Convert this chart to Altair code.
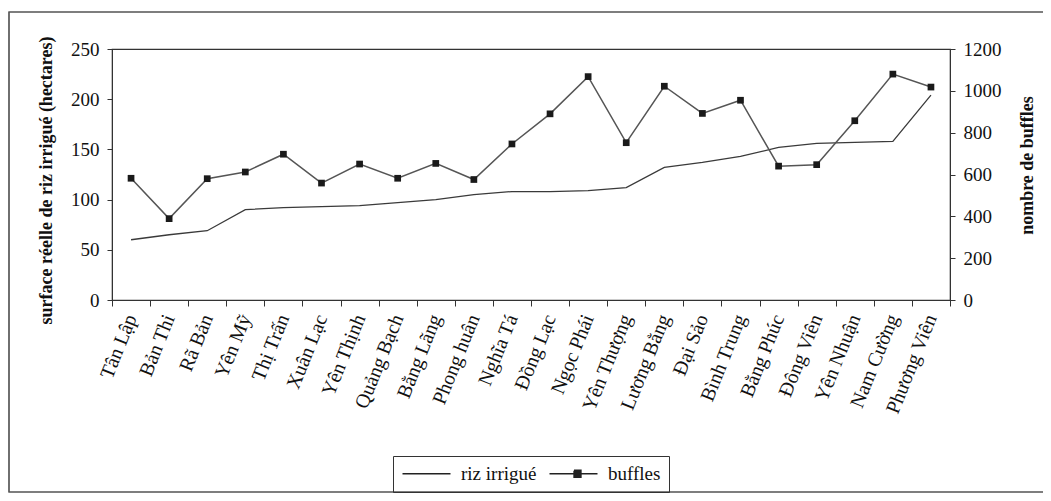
import altair as alt
import pandas as pd

communes = ["Tân Lập", "Bản Thi", "Rã Bản", "Yên Mỹ", "Thị Trấn", "Xuân Lạc",
            "Yên Thịnh", "Quảng Bạch", "Bằng Lãng", "Phong huân", "Nghĩa Tá",
            "Đồng Lạc", "Ngọc Phái", "Yên Thượng", "Lương Bằng", "Đại Sảo",
            "Bình Trung", "Bằng Phúc", "Đông Viên", "Yên Nhuận", "Nam Cường",
            "Phương Viên"]
riz = [60, 65, 69, 90, 92, 93, 94, 97, 100, 105, 108, 108, 109, 112, 132, 137,
       143, 152, 156, 157, 158, 204]
buffles = [582, 389, 580, 612, 697, 559, 650, 582, 653, 576, 746, 890, 1068,
           752, 1022, 892, 955, 640, 647, 857, 1080, 1018]
series_names = ["riz irrigué", "buffles"]

df = pd.DataFrame({"commune": communes, "riz": riz, "buffles": buffles})
legend_df = pd.DataFrame({"serie": series_names})

FONT = "Liberation Serif"
AX = "#333333"

xaxis = alt.Axis(title=None, labelAngle=292, labelAlign="right",
                 labelBaseline="middle", labelPadding=9, tickSize=6,
                 tickBand="extent", labelFontSize=20, labelFont=FONT,
                 labelColor="#111", domainColor=AX, tickColor=AX,
                 labelOverlap=False, grid=False)
xscale = alt.Scale(type="band", paddingInner=0, paddingOuter=0)


def xenc():
    return alt.X("commune:N", sort=communes, bandPosition=0.5,
                 scale=xscale, axis=xaxis)


riz_line = alt.Chart(df).mark_line(color="#3a3a3a", strokeWidth=1.3).encode(
    x=xenc(),
    y=alt.Y("riz:Q", scale=alt.Scale(domain=[0, 250], nice=False),
            axis=alt.Axis(orient="left", values=[0, 50, 100, 150, 200, 250],
                          title="surface réelle de riz irrigué (hectares)",
                          titleX=-66, titleY=131, titleAngle=270,
                          titleAlign="center", titleBaseline="middle",
                          titleFont=FONT, titleFontSize=18, titleFontWeight="bold",
                          titleColor="#111", labelFont=FONT, labelFontSize=19,
                          labelColor="#111", tickSize=5, labelPadding=8,
                          domainColor=AX, tickColor=AX, grid=False)),
)

buf_line = alt.Chart(df).mark_line(
    color="#555555", strokeWidth=1.5,
    point=alt.OverlayMarkDef(shape="square", size=45, filled=True, color="#1a1a1a"),
).encode(
    x=xenc(),
    y=alt.Y("buffles:Q", scale=alt.Scale(domain=[0, 1200], nice=False),
            axis=alt.Axis(orient="right", values=[0, 200, 400, 600, 800, 1000, 1200],
                          format="d",
                          title="nombre de buffles",
                          titleX=77, titleY=116, titleAngle=270,
                          titleAlign="center", titleBaseline="middle",
                          titleFont=FONT, titleFontSize=18, titleFontWeight="bold",
                          titleColor="#111", labelFont=FONT, labelFontSize=19,
                          labelColor="#111", tickSize=5, labelPadding=8,
                          domainColor=AX, tickColor=AX, grid=False)),
)

sq = ("M2.06,-0.44H2.94V-0.3H2.06V-0.15H2.94V0H2.06V0.15H2.94V0.3H2.06"
      "V0.44H2.94V-0.44")
legend_layer = alt.Chart(legend_df).mark_point(filled=False, color="#222222").encode(
    shape=alt.Shape(
        "serie:N",
        scale=alt.Scale(domain=series_names,
                        range=["M-1,0H5", "M-1,0H5M" + sq[1:]]),
        legend=alt.Legend(title=None, orient="none", legendX=281, legendY=407,
                          direction="horizontal", strokeColor="#333",
                          padding=8, symbolSize=256, symbolStrokeWidth=1.3,
                          symbolStrokeColor="#222", symbolOpacity=1,
                          labelFont=FONT, labelFontSize=19,
                          labelColor="#111", labelOffset=41, columnPadding=9),
    )
).transform_filter("datum.serie == 'none'")

frame = alt.Chart(legend_df).mark_rect(fill=None, stroke="#555", strokeWidth=1.2).encode(
    x=alt.value(-103), x2=alt.value(980), y=alt.value(-37), y2=alt.value(443)
)

chart = alt.layer(frame, riz_line, buf_line, legend_layer).resolve_scale(
    y="independent"
).properties(
    width=838, height=251,
    padding={"left": 104, "top": 41, "right": 93, "bottom": 193},
    autosize=alt.AutoSizeParams(type="none"),
    background="white",
).configure_view(stroke=AX, strokeWidth=1.2)

chart.save("out.html", embed_options={"renderer": "svg", "actions": False})
